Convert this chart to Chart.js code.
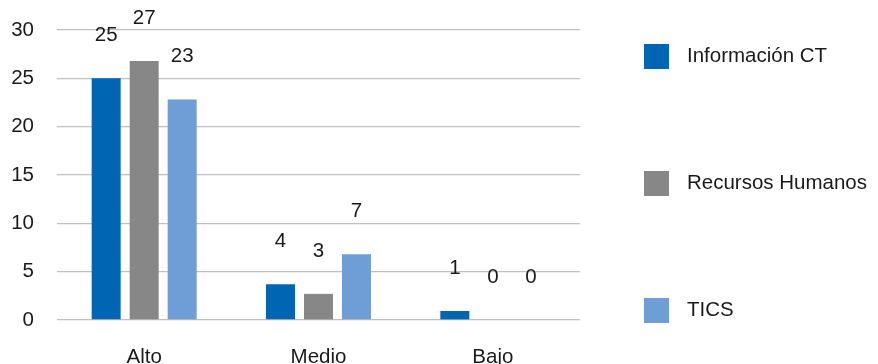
<!DOCTYPE html>
<html><head><meta charset="utf-8">
<script src="https://cdn.jsdelivr.net/npm/chart.js@4/dist/chart.umd.min.js"></script>
<style>html,body{margin:0;padding:0;background:#fff}#wrap{width:878px;height:364px;position:relative}</style>
</head><body><div id="wrap"><canvas id="c" width="878" height="364"></canvas></div>
<script>
const categories = ["Alto", "Medio", "Bajo"];
const seriesNames = ["Información CT", "Recursos Humanos", "TICS"];
const informacionCT = [25.0, 3.7, 0.93];
const recursosHumanos = [26.8, 2.7, 0];
const tics = [22.8, 6.8, 0];
const yTicks = [0, 5, 10, 15, 20, 25, 30];
const colors = ["#0066B3", "#878787", "#6E9ED5"];

const FONT = "'Liberation Sans', Arial, sans-serif";
const TEXT = "#1a1a1a";
const FS = 20.5;

const valueLabels = {
  id: "valueLabels",
  afterDatasetsDraw(chart) {
    const ctx = chart.ctx;
    ctx.save();
    ctx.font = FS + "px " + FONT;
    ctx.fillStyle = TEXT;
    ctx.textAlign = "center";
    ctx.textBaseline = "middle";
    chart.data.datasets.forEach((ds, i) => {
      chart.getDatasetMeta(i).data.forEach((bar, j) => {
        ctx.fillText(String(Math.round(ds.data[j])), bar.x, bar.y - 43);
      });
    });
    ctx.restore();
  }
};

const sideLegend = {
  id: "sideLegend",
  afterDraw(chart) {
    const ctx = chart.ctx;
    ctx.save();
    ctx.font = FS + "px " + FONT;
    ctx.textBaseline = "middle";
    ctx.textAlign = "left";
    const top = 56.5, step = 127;
    chart.data.datasets.forEach((ds, i) => {
      const cy = top + i * step;
      ctx.fillStyle = ds.backgroundColor;
      ctx.fillRect(644, cy - 12.5, 25, 25);
      ctx.fillStyle = TEXT;
      ctx.fillText(ds.label, 687, cy);
    });
    ctx.restore();
  }
};

new Chart(document.getElementById("c"), {
  type: "bar",
  data: {
    labels: categories,
    datasets: [
      { label: seriesNames[0], data: informacionCT, backgroundColor: colors[0] },
      { label: seriesNames[1], data: recursosHumanos, backgroundColor: colors[1] },
      { label: seriesNames[2], data: tics, backgroundColor: colors[2] }
    ]
  },
  options: {
    responsive: false,
    animation: false,
    devicePixelRatio: 1,
    categoryPercentage: 0.654,
    barPercentage: 0.763,
    layout: { padding: { top: 30, right: 298, left: 0, bottom: 0 } },
    plugins: { legend: { display: false }, tooltip: { enabled: false } },
    scales: {
      x: {
        grid: { display: false },
        border: { display: false },
        ticks: { color: TEXT, font: { family: FONT, size: FS }, padding: 17 },
        afterFit(s) { s.height = 44; s.paddingLeft = 0; s.paddingRight = 0; }
      },
      y: {
        min: 0, max: 30,
        afterBuildTicks(s) { s.ticks = yTicks.map(v => ({ value: v })); },
        grid: { color: "#BFBFBF", lineWidth: 1.3, drawTicks: false },
        border: { display: false },
        ticks: { color: TEXT, font: { family: FONT, size: FS }, padding: 23 },
        afterFit(s) { s.width = 57; s.paddingTop = 0; s.paddingBottom = 0; }
      }
    }
  },
  plugins: [valueLabels, sideLegend]
});
</script></body></html>
